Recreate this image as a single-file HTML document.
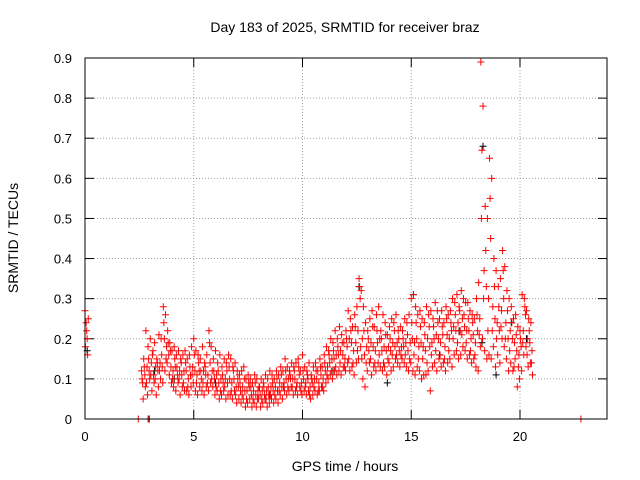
<!DOCTYPE html>
<html><head><meta charset="utf-8"><style>
body{margin:0;background:#fff}
svg{display:block;font-family:"Liberation Sans",sans-serif}
</style></head><body>
<svg id="c" width="640" height="480">
<text x="345" y="32" text-anchor="middle" font-size="14">Day 183 of 2025, SRMTID for receiver braz</text>
<text transform="translate(18,238) rotate(-90)" text-anchor="middle" font-size="14">SRMTID / TECUs</text>
<text x="345" y="471" text-anchor="middle" font-size="14">GPS time / hours</text>
<g id="grid"></g><g id="ticks"></g><g id="marks"></g>
<rect x="85" y="58" width="522" height="361" fill="none" stroke="#000"/>
</svg>
<script>
const xTicks=[0,5,10,15,20];
const yTicks=[0,0.1,0.2,0.3,0.4,0.5,0.6,0.7,0.8,0.9];
const gridStart=2.6, gridStep=0.1;
const upperVals=[.12,.15,.22,.18,.2,.16,.19,.15,.21,.2,.28,.26,.22,.19,.17,.18,.16,.17,.15,.16,.17,.15,.16,.18,.2,.17,.16,.15,.18,.14,.16,.22,.18,.15,.17,.14,.16,.13,.15,.14,.16,.15,.13,.14,.12,.11,.12,.13,.1,.11,.1,.09,.11,.1,.08,.1,.09,.11,.1,.12,.11,.1,.12,.11,.13,.12,.15,.13,.12,.14,.13,.14,.15,.12,.16,.13,.12,.14,.11,.13,.14,.12,.15,.13,.16,.18,.17,.2,.19,.22,.2,.23,.21,.19,.22,.27,.25,.23,.26,.28,.35,.32,.28,.24,.22,.25,.27,.23,.26,.28,.22,.26,.24,.21,.23,.25,.24,.26,.22,.23,.22,.25,.24,.26,.3,.31,.28,.26,.27,.25,.24,.28,.26,.27,.25,.29,.27,.25,.27,.24,.28,.26,.27,.3,.29,.31,.28,.32,.3,.29,.29,.27,.26,.25,.3,.34,.89,.78,.53,.5,.65,.6,.4,.37,.33,.35,.42,.38,.32,.3,.28,.25,.26,.23,.22,.31,.3,.27,.25,.24];
const q1Vals=[.1,.13,.09,.15,.11,.17,.1,.14,.12,.16,.24,.15,.19,.17,.1,.15,.13,.1,.14,.09,.14,.08,.13,.11,.16,.09,.14,.12,.09,.13,.09,.19,.1,.12,.08,.12,.07,.11,.08,.12,.13,.07,.12,.06,.1,.09,.06,.1,.05,.09,.08,.05,.09,.05,.08,.05,.08,.05,.08,.06,.09,.06,.1,.07,.11,.08,.12,.08,.11,.08,.12,.08,.13,.07,.12,.08,.11,.06,.1,.08,.12,.07,.13,.08,.14,.11,.16,.12,.17,.13,.18,.14,.19,.13,.2,.15,.22,.14,.23,.17,.33,.15,.22,.14,.2,.15,.23,.14,.22,.16,.2,.14,.21,.15,.2,.16,.22,.16,.2,.16,.2,.16,.21,.15,.24,.16,.24,.15,.23,.15,.21,.14,.23,.16,.23,.17,.24,.16,.23,.15,.25,.17,.24,.2,.26,.19,.27,.21,.26,.19,.25,.17,.24,.16,.26,.21,.5,.3,.42,.22,.55,.22,.33,.2,.28,.23,.37,.2,.27,.17,.24,.13,.21,.13,.2,.19,.28,.16,.22,.14];
const midVals=[.09,.11,.13,.12,.14,.11,.13,.12,.14,.13,.2,.18,.16,.13,.12,.13,.11,.12,.11,.12,.12,.1,.11,.13,.12,.11,.12,.1,.12,.11,.11,.14,.12,.1,.11,.09,.1,.09,.1,.09,.1,.09,.1,.08,.08,.07,.08,.07,.07,.08,.06,.07,.06,.07,.06,.07,.06,.07,.06,.08,.07,.08,.07,.09,.08,.09,.1,.1,.1,.1,.1,.09,.11,.09,.1,.09,.1,.08,.09,.1,.1,.09,.11,.1,.12,.13,.14,.15,.15,.16,.16,.17,.16,.15,.18,.2,.19,.17,.19,.22,.3,.2,.16,.18,.17,.19,.18,.17,.19,.2,.17,.18,.17,.18,.17,.19,.18,.19,.17,.18,.18,.19,.17,.19,.2,.19,.2,.18,.19,.18,.17,.2,.18,.19,.2,.21,.2,.19,.21,.18,.21,.2,.22,.23,.22,.24,.22,.25,.23,.22,.22,.2,.21,.19,.22,.25,.67,.37,.33,.3,.45,.28,.25,.24,.22,.27,.3,.24,.2,.22,.2,.19,.17,.16,.18,.22,.26,.2,.19,.17];
const lowerVals=[.05,.08,.06,.1,.07,.09,.06,.08,.1,.09,.12,.14,.11,.09,.08,.07,.09,.06,.08,.07,.07,.06,.08,.09,.07,.06,.08,.07,.06,.08,.07,.09,.08,.06,.07,.05,.06,.07,.05,.06,.06,.05,.07,.04,.05,.04,.05,.03,.04,.05,.03,.04,.03,.05,.03,.04,.05,.03,.04,.05,.04,.05,.04,.06,.05,.07,.06,.07,.08,.06,.07,.06,.08,.06,.07,.06,.07,.05,.06,.07,.06,.07,.08,.07,.09,.1,.11,.1,.12,.11,.12,.11,.13,.12,.14,.12,.13,.11,.14,.15,.18,.1,.08,.12,.14,.11,.13,.12,.14,.13,.12,.13,.11,.14,.12,.13,.15,.14,.13,.15,.14,.13,.12,.14,.12,.11,.13,.12,.1,.11,.11,.12,.07,.13,.14,.12,.15,.13,.14,.12,.14,.15,.13,.16,.17,.15,.16,.18,.17,.15,.16,.14,.15,.13,.12,.18,.2,.17,.15,.16,.15,.18,.13,.16,.14,.2,.18,.15,.12,.14,.12,.15,.08,.1,.12,.16,.18,.13,.14,.11];
const extraTimes=[0,0.05,0.1,0.15,0.02,0.08,0.12,2.45,2.9,22.8];
const extraVals=[.27,.24,.2,.25,.18,.22,.16,0,0,0];
const blackTimes=[0.1,3.2,4.1,6.0,8.5,11.4,12.6,13.9,15.1,16.3,17.2,18.3,18.25,18.9,19.6,20.3,2.95];
const blackVals=[.17,.12,.1,.09,.06,.12,.33,.09,.31,.16,.22,.68,.19,.11,.24,.2,0];
const NS='http://www.w3.org/2000/svg';
const x=t=>85+t*(522/24), y=v=>419-v*(361/0.9);
const grid=document.getElementById('grid'),ticks=document.getElementById('ticks'),marks=document.getElementById('marks');
function mk(tag,attrs,parent){const e=document.createElementNS(NS,tag);for(const k in attrs)e.setAttribute(k,attrs[k]);parent.appendChild(e);return e;}
xTicks.forEach(t=>{
 const g=mk('line',{x1:x(t),x2:x(t),y1:58,y2:419,stroke:'#a0a0a0','stroke-dasharray':'1,2'},grid);
 
 
 mk('line',{x1:x(t),x2:x(t),y1:419,y2:410,stroke:'#000'},ticks);
 mk('line',{x1:x(t),x2:x(t),y1:58,y2:67,stroke:'#000'},ticks);
 const l=mk('text',{x:x(t),y:441,'text-anchor':'middle','font-size':13},ticks);l.textContent=t;
 
 
});
yTicks.forEach(v=>{
 const g=mk('line',{x1:85,x2:607,y1:y(v),y2:y(v),stroke:'#a0a0a0','stroke-dasharray':'1,2'},grid);
 
 
 mk('line',{x1:85,x2:94,y1:y(v),y2:y(v),stroke:'#000'},ticks);
 mk('line',{x1:607,x2:598,y1:y(v),y2:y(v),stroke:'#000'},ticks);
 const l=mk('text',{x:72,y:y(v)+5,'text-anchor':'end','font-size':13},ticks);l.textContent=v===0?'0':String(v);
 
 
});
function plus(t,v,col){
 const px=x(t),py=y(v);
 const p=mk('path',{d:`M${px-3.5},${py}h7M${px},${py-3.5}v7`,stroke:col,'stroke-width':1,fill:'none'},marks);
 
 
}
blackTimes.forEach((t,i)=>plus(t,blackVals[i],'#000'));
[upperVals,q1Vals,midVals,lowerVals].forEach((arr,k)=>arr.forEach((v,i)=>plus(gridStart+i*gridStep+k*0.025,v,'#f00')));
extraTimes.forEach((t,i)=>plus(t,extraVals[i],'#f00'));
</script>
</body></html>
